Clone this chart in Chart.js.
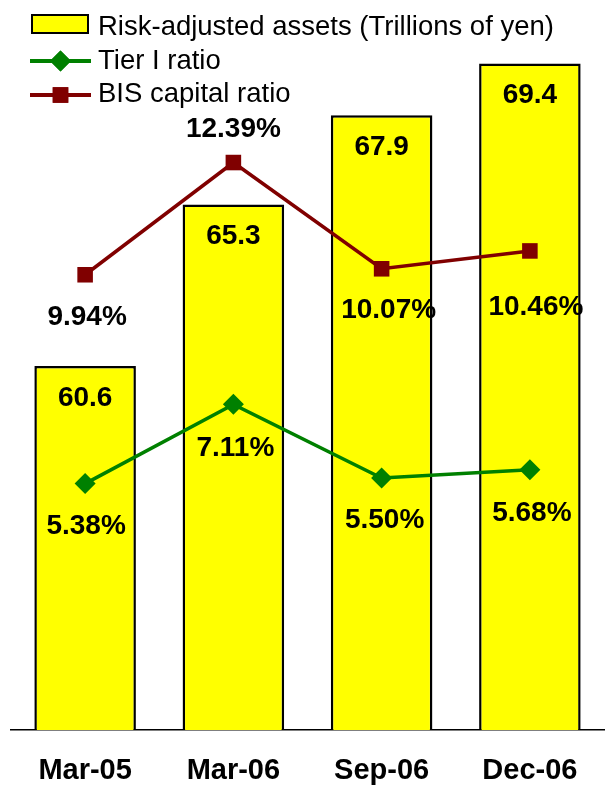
<!DOCTYPE html>
<html>
<head>
<meta charset="utf-8">
<script src="https://cdn.jsdelivr.net/npm/chart.js@4/dist/chart.umd.min.js"></script>
<style>
  html, body { margin: 0; padding: 0; background: #fff; }
  #wrap { width: 610px; height: 785px; overflow: hidden; }
</style>
</head>
<body>
<div id="wrap"><canvas id="chart" width="615" height="811" style="width:615px;height:811px"></canvas></div>
<script>
var periods = ["Mar-05", "Mar-06", "Sep-06", "Dec-06"];
var assets = [60.6, 65.3, 67.9, 69.4];
var tier1 = [5.38, 7.11, 5.50, 5.68];
var bis = [9.94, 12.39, 10.07, 10.46];

var FONT = '"Liberation Sans", Arial, sans-serif';

// numbers over bars and points
var valueLabels = {
  id: 'valueLabels',
  afterDatasetsDraw: function(chart) {
    var ctx = chart.ctx;
    ctx.save();
    ctx.font = 'bold 28px ' + FONT;
    ctx.fillStyle = '#000';
    ctx.textAlign = 'center';
    ctx.textBaseline = 'middle';
    chart.data.datasets.forEach(function(ds, i) {
      var meta = chart.getDatasetMeta(i);
      meta.data.forEach(function(el, j) {
        var v = ds.data[j];
        var txt = ds.type === 'bar' ? v.toFixed(1) : v.toFixed(2) + '%';
        var dy = ds.labelDy[j], dx = ds.labelDx[j];
        ctx.fillText(txt, el.x + dx, el.y + dy);
      });
    });
    ctx.restore();
  }
};

// legend sits inside the plot, top left
var innerLegend = {
  id: 'innerLegend',
  afterDraw: function(chart) {
    var ctx = chart.ctx;
    var ds = chart.data.datasets;
    ctx.save();
    ctx.font = '27.5px ' + FONT;
    ctx.fillStyle = '#000';
    ctx.textBaseline = 'alphabetic';
    ctx.textAlign = 'left';

    // bar swatch
    ctx.fillStyle = ds[0].backgroundColor;
    ctx.fillRect(32, 15, 56, 18);
    ctx.lineWidth = 2;
    ctx.strokeStyle = '#000';
    ctx.strokeRect(32, 15, 56, 18);
    ctx.fillStyle = '#000';
    ctx.fillText(ds[0].label, 98, 35);

    var rows = [[ds[1], 61, 69], [ds[2], 95, 102]];
    rows.forEach(function(r) {
      var d = r[0], y = r[1];
      ctx.strokeStyle = d.borderColor;
      ctx.lineWidth = 4;
      ctx.beginPath();
      ctx.moveTo(30, y);
      ctx.lineTo(91, y);
      ctx.stroke();
      ctx.fillStyle = d.pointBackgroundColor;
      Chart.helpers.drawPoint(ctx, { pointStyle: d.pointStyle, radius: d.pointRadius, rotation: 0, borderWidth: 0 }, 60.5, y);
      ctx.fill();
      ctx.fillStyle = '#000';
      ctx.fillText(d.label, 98, r[2]);
    });
    ctx.restore();
  }
};

new Chart(document.getElementById('chart'), {
  data: {
    labels: periods,
    datasets: [{
      type: 'bar',
      label: 'Risk-adjusted assets (Trillions of yen)',
      data: assets,
      yAxisID: 'y',
      backgroundColor: '#FFFF00',
      borderColor: '#000',
      borderWidth: 2.5,
      borderSkipped: false,
      categoryPercentage: 1,
      barPercentage: 0.685,
      order: 2,
      labelDy: [32, 32, 32, 32],
      labelDx: [0, 0, 0, 0]
    }, {
      type: 'line',
      label: 'Tier I ratio',
      data: tier1,
      yAxisID: 'y2',
      borderColor: '#008000',
      backgroundColor: '#008000',
      pointBackgroundColor: '#008000',
      pointBorderWidth: 0,
      borderWidth: 3.5,
      pointStyle: 'rectRot',
      pointRadius: 10.5,
      tension: 0,
      order: 0,
      labelDy: [43, 44, 42, 43],
      labelDx: [1, 2, 3, 2]
    }, {
      type: 'line',
      label: 'BIS capital ratio',
      data: bis,
      yAxisID: 'y2',
      borderColor: '#800000',
      backgroundColor: '#800000',
      pointBackgroundColor: '#800000',
      pointBorderWidth: 0,
      borderWidth: 3.5,
      pointStyle: 'rect',
      pointRadius: 11,
      tension: 0,
      order: 1,
      labelDy: [43, -33, 41, 56],
      labelDx: [2, 0, 7, 6]
    }]
  },
  options: {
    responsive: false,
    animation: false,
    devicePixelRatio: 1,
    layout: { padding: { top: 43, left: 8, right: 0, bottom: 0 } },
    plugins: {
      legend: { display: false },
      tooltip: { enabled: false }
    },
    scales: {
      x: {
        grid: { display: false, drawTicks: false },
        border: { display: true, color: '#000', width: 1.5 },
        ticks: {
          color: '#000',
          padding: 26,
          font: { family: FONT, size: 29, weight: 'bold', lineHeight: 1 }
        }
      },
      y: { display: false, min: 50, max: 70 },
      y2: { display: false, min: 0, max: 15, position: 'right' }
    }
  },
  plugins: [valueLabels, innerLegend]
});
</script>
</body>
</html>
